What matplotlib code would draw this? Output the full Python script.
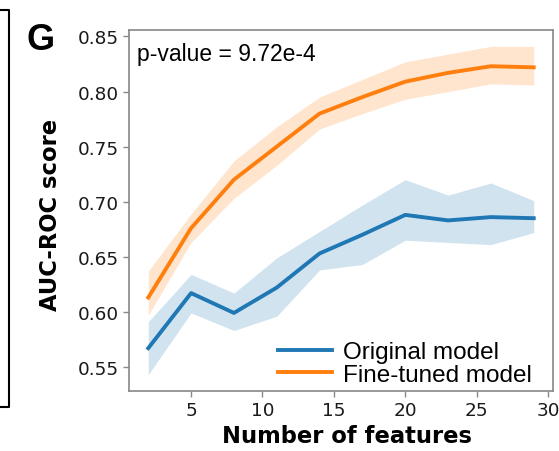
import matplotlib
matplotlib.use("Agg")
import matplotlib.pyplot as plt
from matplotlib.lines import Line2D

n_features = [2, 5, 8, 11, 14, 17, 20, 23, 26, 29]
orig_mean = [0.567, 0.617, 0.599, 0.622, 0.653, 0.670, 0.688, 0.683, 0.686, 0.685]
orig_low = [0.543, 0.599, 0.583, 0.596, 0.638, 0.643, 0.665, 0.663, 0.661, 0.672]
orig_high = [0.591, 0.634, 0.617, 0.649, 0.673, 0.697, 0.720, 0.706, 0.717, 0.701]
ft_mean = [0.613, 0.676, 0.720, 0.750, 0.780, 0.795, 0.809, 0.817, 0.823, 0.822]
ft_low = [0.597, 0.663, 0.703, 0.733, 0.766, 0.780, 0.793, 0.800, 0.807, 0.806]
ft_high = [0.637, 0.689, 0.737, 0.768, 0.795, 0.811, 0.827, 0.834, 0.841, 0.841]
labels = ["Original model", "Fine-tuned model"]
pvalue_text = "p-value = 9.72e-4"
panel_label = "G"

W, H = 559, 452
fig = plt.figure(figsize=(W / 100, H / 100), dpi=100)
ax = fig.add_axes([129 / W, 1 - 392 / H, (553 - 129) / W, (392 - 31) / H])

blue = "#1f77b4"
orange = "#ff7f0e"
ax.fill_between(n_features, orig_low, orig_high, color=blue, alpha=0.2, lw=0)
ax.fill_between(n_features, ft_low, ft_high, color=orange, alpha=0.2, lw=0)
ax.plot(n_features, orig_mean, color=blue, lw=2.8, label=labels[0])
ax.plot(n_features, ft_mean, color=orange, lw=2.8, label=labels[1])

ax.set_xticks([5, 10, 15, 20, 25, 30])
ax.set_yticks([0.55, 0.60, 0.65, 0.70, 0.75, 0.80, 0.85])
ax.set_yticklabels(["%.2f" % v for v in [0.55, 0.60, 0.65, 0.70, 0.75, 0.80, 0.85]])
ax.tick_params(labelsize=13.3, colors="#888888", labelcolor="#1a1a1a", length=4, width=1)
for s in ax.spines.values():
    s.set_color("#888888")
    s.set_linewidth(1.2)

ax.set_xlabel("Number of features", fontsize=16.3, fontweight="bold")
ax.set_ylabel("AUC-ROC score", fontsize=16.3, fontweight="bold")
ax.xaxis.set_label_coords(0.514, -0.092)
ax.yaxis.set_label_coords(-0.158, 0.49)

ax.text(0.018, 0.966, pvalue_text, transform=ax.transAxes, ha="left", va="top",
        fontsize=16.5, family="Liberation Sans")

leg = ax.legend(loc="lower right", bbox_to_anchor=(0.972, -0.012), frameon=False,
                prop={"family": "Liberation Sans", "size": 17.5},
                handlelength=2.2, handletextpad=0.45, labelspacing=0.02, borderaxespad=0)

fig.text(27 / W, 1 - 50 / H, panel_label, fontsize=26, fontweight="bold",
         family="Liberation Sans", ha="left", va="baseline")

x9 = 9 / W
fig.add_artist(Line2D([0, x9, x9, 0], [1 - 11 / H, 1 - 11 / H, 1 - 408 / H, 1 - 408 / H],
                      transform=fig.transFigure, color="black", lw=1.5))

fig.savefig("out.png", dpi=100)
